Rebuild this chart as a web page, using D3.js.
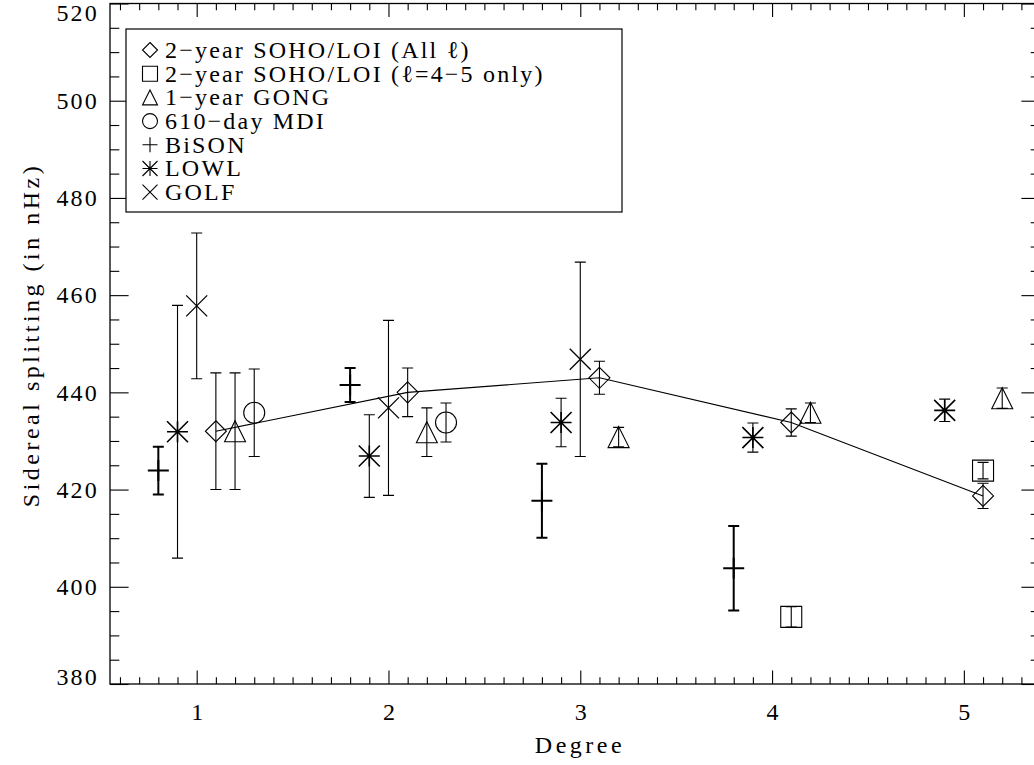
<!DOCTYPE html>
<html>
<head>
<meta charset="utf-8">
<script src="https://cdn.jsdelivr.net/npm/d3@7"></script>
<style>
  body { margin: 0; background: #fff; }
  svg { display: block; }
  text { font-family: "Liberation Serif", serif; fill: #000; }
</style>
</head>
<body>
<script>
// degrees and measured splittings (nHz) with 1-sigma errors
var loiAllDeg = [1, 2, 3, 4, 5];
var loiAll    = [432, 440, 443, 433.8, 418.7];
var loiAllErr = [12, 5, 3.4, 2.8, 2.6];

var loi45Deg = [4, 5];
var loi45    = [393.8, 423.9];
var loi45Err = [2.1, 1.7];

var gongDeg = [1, 2, 3, 4, 5];
var gong    = [432, 431.8, 430.8, 435.8, 438.8];
var gongErr = [12, 5, 2, 2, 2.1];

var mdiDeg = [1, 2];
var mdi    = [435.8, 433.8];
var mdiErr = [9, 4];

var bisonDeg = [1, 2, 3, 4];
var bison    = [423.9, 441.5, 417.7, 403.8];
var bisonErr = [4.9, 3.5, 7.6, 8.7];

var lowlDeg = [1, 2, 3, 4, 5];
var lowl    = [431.9, 426.9, 433.8, 430.7, 436.3];
var lowlErr = [26, 8.5, 5, 3, 2.3];

var golfDeg = [1, 2, 3];
var golf    = [457.8, 436.8, 446.8];
var golfErr = [15, 18, 20];

var xTicks = [1, 2, 3, 4, 5];
var yTicks = [380, 400, 420, 440, 460, 480, 500, 520];

var legendLabels = [
  "2\u2212year SOHO/LOI (All \u2113)",
  "2\u2212year SOHO/LOI (\u2113=4\u22125 only)",
  "1\u2212year GONG",
  "610\u2212day MDI",
  "BiSON",
  "LOWL",
  "GOLF"
];

(function(){
  var width = 1034, height = 765;
  var fontSize = 24, spacing = 2.2;

  var x = d3.scaleLinear().domain([0.548, 5.397]).range([110, 1040]);
  var y = d3.scaleLinear().domain([380, 520]).range([684, 3.5]);

  var svg = d3.select("body").append("svg")
    .attr("width", width)
    .attr("height", height);

  // symbol paths, half size s
  var symbols = {
    diamond: function(s) { return "M0," + (-s) + "L" + s + ",0L0," + s + "L" + (-s) + ",0Z"; },
    square: function(s) { return "M" + (-s) + "," + (-s) + "h" + 2*s + "v" + 2*s + "h" + (-2*s) + "Z"; },
    triangle: function(s) { return "M" + (-s) + "," + s + "L0," + (-s) + "L" + s + "," + s + "Z"; },
    circle: function(s) { var p = d3.path(); p.arc(0, 0, s, 0, 2*Math.PI); p.closePath(); return p.toString(); },
    plus: function(s) { return "M" + (-s) + ",0h" + 2*s + "M0," + (-s) + "v" + 2*s; },
    cross: function(s) { return "M" + (-s) + "," + (-s) + "L" + s + "," + s + "M" + (-s) + "," + s + "L" + s + "," + (-s); },
    asterisk: function(s) { return symbols.plus(s) + symbols.cross(s); }
  };

  var series = [
    { deg: loiAllDeg, val: loiAll, err: loiAllErr, off: 0.1, sym: "diamond", w: 1.1 },
    { deg: loi45Deg, val: loi45, err: loi45Err, off: 0.1, sym: "square", w: 1.1 },
    { deg: gongDeg, val: gong, err: gongErr, off: 0.2, sym: "triangle", w: 1.1 },
    { deg: mdiDeg, val: mdi, err: mdiErr, off: 0.3, sym: "circle", w: 1.1 },
    { deg: bisonDeg, val: bison, err: bisonErr, off: -0.2, sym: "plus", w: 2 },
    { deg: lowlDeg, val: lowl, err: lowlErr, off: -0.1, sym: "asterisk", w: 1.6 },
    { deg: golfDeg, val: golf, err: golfErr, off: 0, sym: "cross", w: 1.3 }
  ];

  var symSize = 10.5, cap = 5.5;

  // line through the all-l LOI points
  svg.append("path")
    .datum(loiAllDeg.map(function(d, i){ return [d + 0.1, loiAll[i]]; }))
    .attr("fill", "none")
    .attr("stroke", "#000")
    .attr("stroke-width", 1.1)
    .attr("d", d3.line().x(function(d){ return x(d[0]); }).y(function(d){ return y(d[1]); }));

  series.forEach(function(s) {
    var pts = s.deg.map(function(d, i){ return { x: d + s.off, v: s.val[i], e: s.err[i] }; });
    var g = svg.append("g")
      .attr("fill", "none")
      .attr("stroke", "#000");

    g.selectAll(".eb").data(pts).enter().append("path")
      .attr("stroke-width", s.sym === "plus" ? 2 : 1.1)
      .attr("d", function(p) {
        var px = x(p.x), y1 = y(p.v + p.e), y2 = y(p.v - p.e);
        return "M" + px + "," + y1 + "V" + y2 +
               "M" + (px - cap) + "," + y1 + "h" + 2*cap +
               "M" + (px - cap) + "," + y2 + "h" + 2*cap;
      });

    g.selectAll(".sym").data(pts).enter().append("path")
      .attr("stroke-width", s.w)
      .attr("transform", function(p){ return "translate(" + x(p.x) + "," + y(p.v) + ")"; })
      .attr("d", symbols[s.sym](symSize));
  });

  // frame
  svg.append("rect")
    .attr("x", x.range()[0]).attr("y", y.range()[1])
    .attr("width", x.range()[1] - x.range()[0])
    .attr("height", y.range()[0] - y.range()[1])
    .attr("fill", "none").attr("stroke", "#000").attr("stroke-width", 1.3);

  var minorX = d3.range(6, 54).filter(function(i){ return i % 10 !== 0; }).map(function(i){ return i/10; });
  var minorY = d3.range(380, 521, 5).filter(function(v){ return v % 20 !== 0; });

  function styleAxis(g) {
    g.select(".domain").remove();
    g.selectAll(".tick line").attr("stroke", "#000").attr("stroke-width", 1.1);
    g.selectAll(".tick text")
      .attr("font-family", "Liberation Serif")
      .attr("font-size", fontSize)
      .attr("letter-spacing", spacing)
      .attr("fill", "#000");
  }

  var left = svg.append("g").attr("transform", "translate(" + x.range()[0] + ",0)")
    .call(d3.axisLeft(y).tickValues(yTicks).tickSize(-18.6).tickPadding(11).tickFormat(d3.format("d")))
    .call(styleAxis);
  left.selectAll(".tick text")
    .attr("y", function(d){ var py = y(d); return Math.min(Math.max(py, 13), 677) - py; });
  svg.append("g").attr("transform", "translate(" + x.range()[0] + ",0)")
    .call(d3.axisLeft(y).tickValues(minorY).tickSize(-9.3).tickFormat(""))
    .call(styleAxis);

  svg.append("g").attr("transform", "translate(" + x.range()[1] + ",0)")
    .call(d3.axisRight(y).tickValues(yTicks).tickSize(-18.6).tickFormat(""))
    .call(styleAxis);
  svg.append("g").attr("transform", "translate(" + x.range()[1] + ",0)")
    .call(d3.axisRight(y).tickValues(minorY).tickSize(-9.3).tickFormat(""))
    .call(styleAxis);

  var bottom = svg.append("g").attr("transform", "translate(0," + y.range()[0] + ")")
    .call(d3.axisBottom(x).tickValues(xTicks).tickSize(-13.6).tickPadding(19).tickFormat(d3.format("d")))
    .call(styleAxis);
  bottom.selectAll(".tick text").attr("dx", spacing / 2);
  svg.append("g").attr("transform", "translate(0," + y.range()[0] + ")")
    .call(d3.axisBottom(x).tickValues(minorX).tickSize(-6.8).tickFormat(""))
    .call(styleAxis);

  svg.append("g").attr("transform", "translate(0," + y.range()[1] + ")")
    .call(d3.axisTop(x).tickValues(xTicks).tickSize(-13.6).tickFormat(""))
    .call(styleAxis);
  svg.append("g").attr("transform", "translate(0," + y.range()[1] + ")")
    .call(d3.axisTop(x).tickValues(minorX).tickSize(-6.8).tickFormat(""))
    .call(styleAxis);

  // axis titles
  svg.append("text")
    .attr("x", 580).attr("y", 753)
    .attr("text-anchor", "middle")
    .attr("font-size", fontSize).attr("letter-spacing", 3.5)
    .text("Degree");

  svg.append("text")
    .attr("transform", "translate(31,335) rotate(-90)")
    .attr("text-anchor", "middle")
    .attr("dy", "0.33em")
    .attr("font-size", fontSize).attr("letter-spacing", 3.5)
    .text("Sidereal splitting (in nHz)");

  // legend
  var legend = svg.append("g");
  legend.append("rect")
    .attr("x", 126).attr("y", 29).attr("width", 496).attr("height", 183)
    .attr("fill", "#fff").attr("stroke", "#000").attr("stroke-width", 1.2);

  var rows = legend.selectAll(".row").data(series).enter().append("g")
    .attr("transform", function(d, i){ return "translate(150," + (50 + i*23.7) + ")"; });
  rows.append("path")
    .attr("fill", "none").attr("stroke", "#000").attr("stroke-width", 1.1)
    .attr("d", function(d){ return symbols[d.sym](7.5); });
  rows.append("text")
    .attr("x", 15).attr("dy", "0.33em")
    .attr("font-size", fontSize).attr("letter-spacing", spacing)
    .text(function(d, i){ return legendLabels[i]; });
})();
</script>
</body>
</html>
